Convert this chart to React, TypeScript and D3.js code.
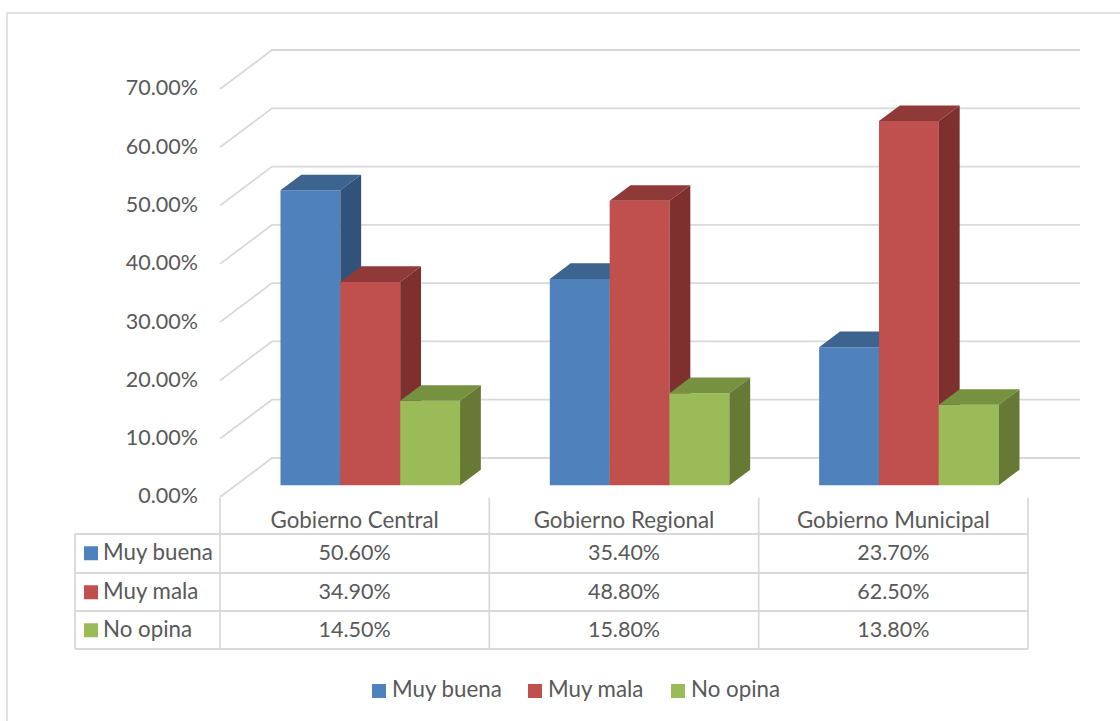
import React from "react";
import * as d3 from "d3";

const categories = ["Gobierno Central", "Gobierno Regional", "Gobierno Municipal"];
const seriesNames = ["Muy buena", "Muy mala", "No opina"];
const muyBuena = [0.506, 0.354, 0.237];
const muyMala = [0.349, 0.488, 0.625];
const noOpina = [0.145, 0.158, 0.138];
const yTicks = [0, 0.1, 0.2, 0.3, 0.4, 0.5, 0.6, 0.7];

const seriesValues = [muyBuena, muyMala, noOpina];
const frontColors = ["#4f81bd", "#c0504d", "#9bbb59"];
const topColors = ["#3d638f", "#8f3a38", "#769140"];
const sideColors = ["#31527a", "#7e302f", "#667a36"];

const FONT = "Lato, 'Open Sans', sans-serif";
const TEXT = "#595959";
const GRID = "#d9d9d9";
const FS_NUM = 21.5;
const FS_WORD = 22.3;

export default function App() {
  const x = d3.scaleBand<string>().domain(categories).range([220, 1028]).paddingInner(0).paddingOuter(0);
  const inner = d3.scaleBand<string>().domain(seriesNames).range([0, x.bandwidth()]).paddingInner(0).paddingOuter(0.75);
  const y = d3.scaleLinear().domain([0, 0.7]).range([497, 89]);
  const DX = 52, DY = -39;
  const d1 = 0.3, d2 = 0.7;
  const P = (px: number, v: number, d: number) => [px + d * DX, y(v) + d * DY];
  const pts = (arr: number[][]) => arr.map((p) => p.join(",")).join(" ");
  const fmt = d3.format(".2%");

  const rowTops = [534, 573, 611];
  const rowH = 38.5;
  const tableLeft = 75;
  const tableRight = 1028;

  const legendItems = [
    { x: 372, label: seriesNames[0] },
    { x: 528, label: seriesNames[1] },
    { x: 671, label: seriesNames[2] },
  ];

  return (
    <svg width={1120} height={721} style={{ position: "absolute", left: 0, top: 0, background: "#fff" }} fontFamily={FONT}>
      <rect x={0} y={0} width={1120} height={721} fill="#fff" />
      <rect x={7} y={13} width={1200} height={800} fill="none" stroke={GRID} strokeWidth={1.5} />
      {/* gridlines */}
      {yTicks.map((v) => {
        const a = P(220, v, 0), b = P(220, v, 1), c = P(1028, v, 1);
        return (
          <g key={v}>
            <polyline points={pts([a, b, c])} fill="none" stroke={GRID} strokeWidth={1.8} />
            <text x={198} y={y(v) + 1} textAnchor="end" dominantBaseline="middle" fontSize={FS_NUM} fill={TEXT}>
              {fmt(v)}
            </text>
          </g>
        );
      })}
      {/* bars */}
      {categories.map((cat, ci) => (
        <g key={cat}>
          {seriesNames.map((s, si) => {
            const v = seriesValues[si][ci];
            const x0 = (x(cat) as number) + (inner(s) as number);
            const x1 = x0 + inner.bandwidth();
            const front = [P(x0, 0, d1), P(x1, 0, d1), P(x1, v, d1), P(x0, v, d1)];
            const top = [P(x0, v, d1), P(x1, v, d1), P(x1, v, d2), P(x0, v, d2)];
            const side = [P(x1, 0, d1), P(x1, 0, d2), P(x1, v, d2), P(x1, v, d1)];
            return (
              <g key={s}>
                <polygon points={pts(front)} fill={frontColors[si]} />
                <polygon points={pts(top)} fill={topColors[si]} />
                <polygon points={pts(side)} fill={sideColors[si]} />
              </g>
            );
          })}
        </g>
      ))}
      {/* data table */}
      {[220, 489.3, 758.7, 1028].map((vx, i) => (
        <line key={"v" + i} x1={vx} x2={vx} y1={498} y2={649} stroke={GRID} strokeWidth={1.8} />
      ))}
      <line x1={tableLeft} x2={tableLeft} y1={534} y2={649} stroke={GRID} strokeWidth={1.8} />
      {[534, 573, 611, 649].map((hy) => (
        <line key={"h" + hy} x1={tableLeft} x2={tableRight} y1={hy} y2={hy} stroke={GRID} strokeWidth={1.8} />
      ))}
      {categories.map((cat) => (
        <text key={"hd" + cat} x={(x(cat) as number) + x.bandwidth() / 2} y={528} textAnchor="middle" fontSize={FS_WORD} fill={TEXT}>
          {cat}
        </text>
      ))}
      {seriesNames.map((s, si) => (
        <g key={"row" + s}>
          <rect x={84} y={rowTops[si] + rowH / 2 - 7} width={14} height={14} fill={frontColors[si]} />
          <text x={103} y={rowTops[si] + rowH / 2 + 1} dominantBaseline="middle" fontSize={FS_WORD} fill={TEXT}>
            {s}
          </text>
          {categories.map((cat, ci) => (
            <text key={cat} x={(x(cat) as number) + x.bandwidth() / 2} y={rowTops[si] + rowH / 2 + 1} textAnchor="middle" dominantBaseline="middle" fontSize={FS_NUM} fill={TEXT}>
              {fmt(seriesValues[si][ci])}
            </text>
          ))}
        </g>
      ))}
      {/* legend */}
      {legendItems.map((it, i) => (
        <g key={"lg" + i}>
          <rect x={it.x} y={684} width={14} height={14} fill={frontColors[i]} />
          <text x={it.x + 20} y={691} dominantBaseline="middle" fontSize={FS_WORD} fill={TEXT}>
            {it.label}
          </text>
        </g>
      ))}
    </svg>
  );
}
